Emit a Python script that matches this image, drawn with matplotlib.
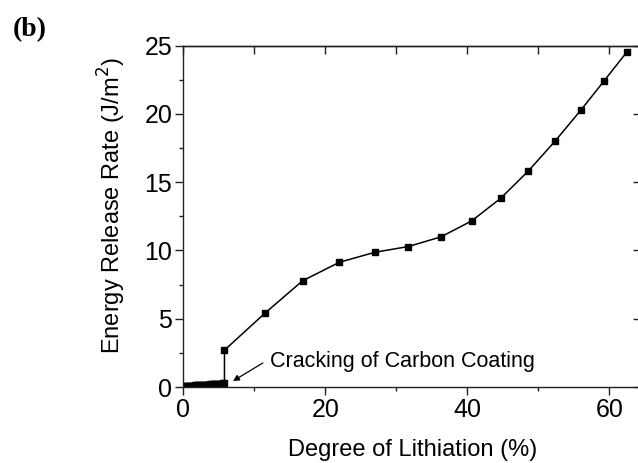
"""Energy release rate vs. degree of lithiation, panel (b)."""
import matplotlib
matplotlib.use("Agg")
import matplotlib.pyplot as plt
from matplotlib.ticker import MultipleLocator, NullFormatter

# early stage (before coating cracks): dense simulation points near zero
early_lithiation = [0.0, 0.2, 0.4, 0.6, 0.8, 1.0, 1.2, 1.4, 1.6, 1.8, 2.0,
                    2.2, 2.4, 2.6, 2.8, 3.0, 3.2, 3.4, 3.6, 3.8, 4.0, 4.2,
                    4.4, 4.6, 4.8, 5.0, 5.2, 5.4, 5.6, 5.8]
early_energy = [0.06, 0.07, 0.08, 0.08, 0.09, 0.10, 0.10, 0.11, 0.12, 0.12,
                0.13, 0.14, 0.14, 0.15, 0.16, 0.16, 0.17, 0.18, 0.18, 0.19,
                0.20, 0.20, 0.21, 0.22, 0.22, 0.23, 0.24, 0.25, 0.26, 0.27]

# after cracking
lithiation = [5.8, 11.5, 16.8, 22.0, 27.0, 31.7, 36.3, 40.6, 44.7, 48.6,
              52.4, 56.0, 59.3, 62.5]
energy = [2.70, 5.41, 7.78, 9.14, 9.87, 10.29, 11.00, 12.16, 13.82, 15.82,
          18.03, 20.28, 22.44, 24.55]

plt.rcParams["font.family"] = ["Liberation Sans", "DejaVu Sans"]

fig = plt.figure(figsize=(6.38, 4.63), dpi=100)
ax = fig.add_axes([0.2873, 0.1641, 0.7177, 0.7372])

# the dense early points merge into a solid black band
ax.plot(early_lithiation, early_energy, color="black", lw=4.0,
        solid_capstyle="butt")
x_all = early_lithiation + lithiation
y_all = early_energy + energy
ax.plot(x_all, y_all, color="black", lw=1.1, marker="s", ms=5.0,
        mfc="black", mec="black")

ax.set_xlim(0, 64.5)
ax.set_ylim(0, 25)
ax.xaxis.set_major_locator(MultipleLocator(20))
ax.xaxis.set_minor_locator(MultipleLocator(10))
ax.yaxis.set_major_locator(MultipleLocator(5))
ax.yaxis.set_minor_locator(MultipleLocator(2.5))

for side in ax.spines.values():
    side.set_linewidth(1.0)
    side.set_color("#222222")
ax.spines["right"].set_visible(False)

ax.tick_params(which="major", direction="out", length=6, width=1.0,
               labelsize=18, pad=2, color="#222222")
ax.tick_params(which="minor", direction="out", length=3, width=1.0,
               color="#222222")

# top and right ticks point inward
top = ax.secondary_xaxis("top")
top.xaxis.set_major_locator(MultipleLocator(10))
top.xaxis.set_major_formatter(NullFormatter())
top.tick_params(direction="in", length=6, width=1.0, color="#222222")
top.spines["top"].set_linewidth(1.0)
top.spines["top"].set_color("#222222")

right = ax.secondary_yaxis("right")
right.yaxis.set_major_locator(MultipleLocator(5))
right.yaxis.set_major_formatter(NullFormatter())
right.tick_params(direction="in", length=6, width=1.0, color="#222222")
right.spines["right"].set_visible(False)

ax.set_xlabel("Degree of Lithiation (%)", fontsize=17, labelpad=12)
ax.set_ylabel("Energy Release Rate (J/m$^2$)", fontsize=17)
ax.yaxis.set_label_coords(-0.12, 0.533)

ax.annotate("Cracking of Carbon Coating", xy=(12.2, 1.85), fontsize=15.5,
            va="center", ha="left")
ax.annotate("", xy=(7.0, 0.44), xytext=(11.2, 1.76),
            arrowprops=dict(arrowstyle="-|>", color="black", lw=0.9,
                            mutation_scale=9, shrinkA=0, shrinkB=0))

fig.text(0.047, 0.937, "(b)", family="Liberation Serif", weight="bold",
         fontsize=20, ha="center", va="center")

fig.savefig("out.png", dpi=100)
